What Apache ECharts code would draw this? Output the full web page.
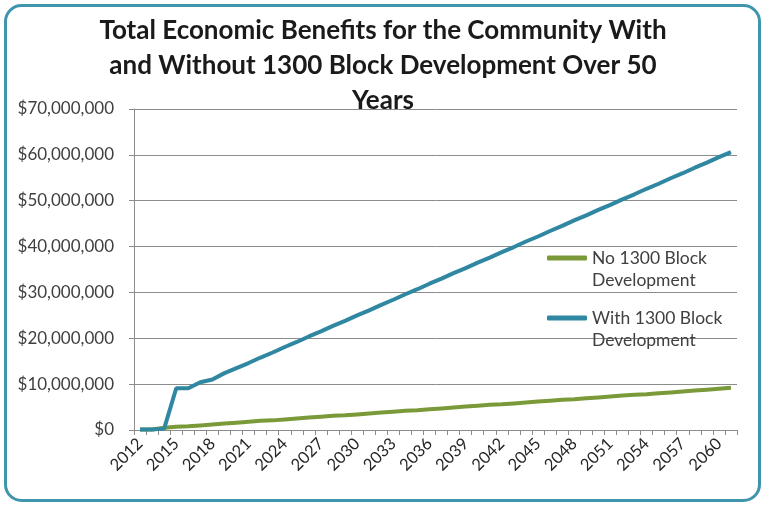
<!DOCTYPE html>
<html><head><meta charset="utf-8">
<script src="https://cdn.jsdelivr.net/npm/echarts@6/dist/echarts.min.js"></script>
<style>html,body{margin:0;padding:0;background:#fff}#c{width:762px;height:506px}</style>
</head><body><div id="c"></div>
<script>
var years = [];
for (var y = 2012; y <= 2061; y++) years.push(String(y));
var noBlock = [0.1,0.1,0.5,0.7,0.8,1.0,1.2,1.4,1.6,1.8,2.0,2.1,2.3,2.5,2.7,2.9,3.1,3.2,3.4,3.6,3.8,4.0,4.2,4.3,4.5,4.7,4.9,5.1,5.3,5.5,5.6,5.8,6.0,6.2,6.4,6.6,6.7,6.9,7.1,7.3,7.5,7.7,7.8,8.0,8.2,8.4,8.6,8.8,9.0,9.2];
var withBlock = [0.1,0.1,0.3,9.1,9.1,10.4,11.0,12.4,13.5,14.6,15.8,16.9,18.1,19.2,20.4,21.5,22.7,23.8,25.0,26.1,27.3,28.4,29.6,30.7,31.9,33.0,34.2,35.3,36.5,37.6,38.8,39.9,41.1,42.2,43.4,44.5,45.7,46.8,48.0,49.1,50.3,51.4,52.6,53.7,54.9,56.0,57.2,58.3,59.5,60.6];
var seriesNames = ['No 1300 Block Development', 'With 1300 Block Development'];
var titleText = 'Total Economic Benefits for the Community With\nand Without 1300 Block Development Over 50\nYears';
var FONT = 'Lato';
var toDollars = function (arr) { return arr.map(function (v) { return v * 1e6; }); };

var chart = echarts.init(document.getElementById('c'), null, {renderer: 'canvas'});
var legendFmt = function (name) {
  return name === seriesNames[0] ? '\nNo 1300 Block\nDevelopment' : '\nWith 1300 Block\nDevelopment';
};
var legendBase = {
  orient: 'vertical', left: 547, padding: 0, itemWidth: 40, itemHeight: 5, itemGap: 3,
  icon: 'roundRect',
  formatter: legendFmt,
  textStyle: {fontFamily: FONT, fontSize: 17.5, color: '#404040', lineHeight: 22}
};
chart.setOption({
  animation: false,
  backgroundColor: '#fff',
  graphic: [{
    type: 'rect', left: 3, top: 3, silent: true,
    shape: {width: 754, height: 495, r: 16},
    style: {fill: 'none', stroke: '#3f95ab', lineWidth: 3}
  }],
  title: {
    text: titleText, left: 378, top: 8, textAlign: 'center',
    textStyle: {fontFamily: FONT, fontSize: 26, fontWeight: 'bold', color: '#1a1a1a', lineHeight: 35}
  },
  legend: [
    Object.assign({}, legendBase, {top: 225, data: [{name: seriesNames[0], itemStyle: {color: '#7a9a3a'}}]}),
    Object.assign({}, legendBase, {top: 285, data: [{name: seriesNames[1], itemStyle: {color: '#2f87a1'}}]})
  ],
  grid: {left: 134, right: 25, top: 109, bottom: 76, containLabel: false},
  xAxis: {
    type: 'category', data: years, boundaryGap: true,
    axisLine: {lineStyle: {color: '#8c8c8c', width: 1}},
    axisTick: {show: true, interval: 0, length: 5, lineStyle: {color: '#8c8c8c'}},
    axisLabel: {interval: 2, rotate: 45, margin: 11, fontFamily: FONT, fontSize: 16.5, color: '#262626'},
    splitLine: {show: false}
  },
  yAxis: {
    type: 'value', min: 0, max: 70000000, interval: 10000000,
    axisLine: {show: true, lineStyle: {color: '#8c8c8c', width: 1}},
    axisTick: {show: true, length: 5, lineStyle: {color: '#8c8c8c'}},
    axisLabel: {margin: 20, fontFamily: FONT, fontSize: 17, color: '#404040',
      formatter: function (v) { return '$' + v.toLocaleString('en-US'); }},
    splitLine: {lineStyle: {color: '#8c8c8c', width: 1}}
  },
  series: [
    {name: seriesNames[0], type: 'line', data: toDollars(noBlock), symbol: 'none',
     lineStyle: {color: '#7a9a3a', width: 4}, itemStyle: {color: '#7a9a3a'}},
    {name: seriesNames[1], type: 'line', data: toDollars(withBlock), symbol: 'none',
     lineStyle: {color: '#2f87a1', width: 4}, itemStyle: {color: '#2f87a1'}}
  ]
});
</script></body></html>
